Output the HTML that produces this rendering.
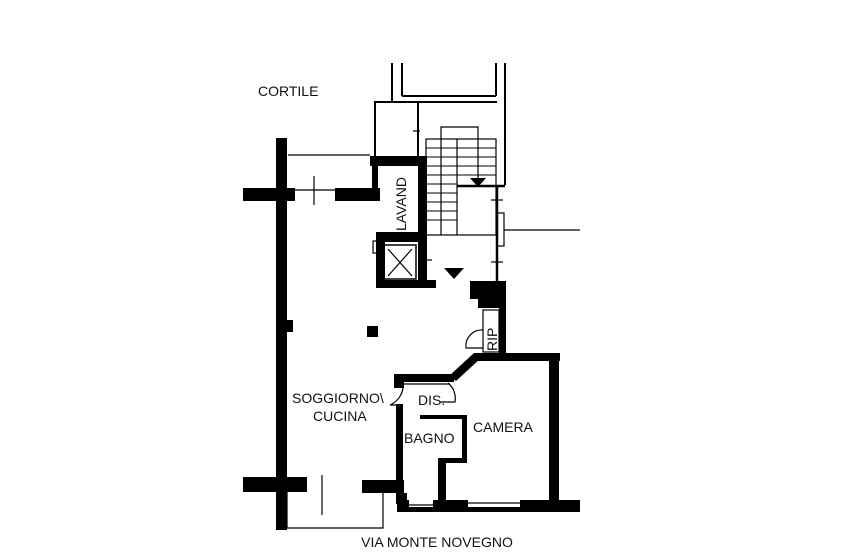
<!DOCTYPE html>
<html><head><style>
html,body{margin:0;padding:0;background:#fff;}
svg{display:block;}
text{font-family:"Liberation Sans",sans-serif;fill:#111;}
</style></head><body>
<svg width="853" height="560" viewBox="0 0 853 560" xmlns="http://www.w3.org/2000/svg">
<rect width="853" height="560" fill="#fff"/>
<g fill="#000">
<rect x="276" y="138" width="11" height="392"/>
<rect x="287" y="320" width="6" height="12"/>
<rect x="243" y="188" width="52" height="13"/>
<rect x="335" y="188" width="45" height="13"/>
<rect x="370" y="156" width="57" height="10"/>
<rect x="418" y="156" width="9" height="132"/>
<rect x="376" y="232" width="50" height="10"/>
<rect x="376" y="232" width="9" height="56"/>
<rect x="376" y="280" width="60" height="8"/>
<rect x="372" y="166" width="6" height="30"/>
<rect x="470" y="281" width="36" height="18"/>
<rect x="478" y="281" width="28" height="27"/>
<rect x="499" y="299" width="7" height="56"/>
<rect x="367" y="326" width="11" height="11"/>
<rect x="474" y="353" width="86" height="8"/>
<rect x="549" y="353" width="10" height="150"/>
<polygon points="474,353 481,358 456,381 449,376"/>
<rect x="394" y="374" width="60" height="8"/>
<rect x="394" y="374" width="10" height="14"/>
<rect x="396" y="404" width="7" height="100"/>
<rect x="420" y="415" width="47" height="4"/>
<rect x="462" y="415" width="5" height="47"/>
<rect x="438" y="458" width="29" height="5"/>
<rect x="438" y="458" width="8" height="45"/>
<rect x="243" y="477" width="64" height="15"/>
<rect x="362" y="480" width="42" height="13"/>
<rect x="397" y="493" width="10" height="18"/>
<rect x="397" y="500" width="183" height="12"/>
</g>
<rect x="409" y="500" width="24" height="7" fill="#fff"/>
<rect x="468" y="500" width="52" height="7" fill="#fff"/>
<g stroke="#000" fill="none" stroke-width="1.2">
<line x1="409" y1="505" x2="433" y2="505"/>
<line x1="468" y1="503" x2="520" y2="503"/>
<line x1="288" y1="155" x2="370" y2="155"/>
<line x1="295" y1="190" x2="335" y2="190"/>
<line x1="314" y1="176" x2="314" y2="205"/>
<rect x="375" y="102" width="43" height="55" stroke-width="2"/>
<line x1="418" y1="102" x2="497" y2="102" stroke-width="2"/>
<line x1="392" y1="63" x2="392" y2="102" stroke-width="2"/>
<line x1="402" y1="63" x2="402" y2="96" stroke-width="2"/>
<line x1="402" y1="96" x2="496" y2="96" stroke-width="2"/>
<line x1="496" y1="63" x2="496" y2="96" stroke-width="2"/>
<line x1="505" y1="63" x2="505" y2="185" stroke-width="2"/>
<line x1="413" y1="131" x2="420" y2="131"/>
<rect x="426" y="139" width="70" height="96"/>
<path d="M441 139 V127 H478 V180"/>
<line x1="441" y1="139" x2="441" y2="235"/>
<line x1="457" y1="139" x2="457" y2="235"/>
<g stroke-width="1">
<line x1="426" y1="148" x2="496" y2="148"/><line x1="426" y1="157" x2="496" y2="157"/>
<line x1="426" y1="166" x2="496" y2="166"/><line x1="426" y1="175" x2="496" y2="175"/>
<line x1="426" y1="184" x2="457" y2="184"/><line x1="426" y1="193" x2="457" y2="193"/>
<line x1="426" y1="202" x2="457" y2="202"/><line x1="426" y1="211" x2="457" y2="211"/>
<line x1="426" y1="220" x2="457" y2="220"/>
</g>
<line x1="457" y1="186" x2="505" y2="186" stroke-width="2.5"/>
<line x1="497" y1="185" x2="497" y2="282" stroke-width="2.5"/>
<rect x="497" y="213" width="7" height="33"/>
<line x1="504" y1="230" x2="580" y2="230"/>
<line x1="491" y1="200" x2="503" y2="200"/>
<line x1="491" y1="262" x2="503" y2="262"/>
<rect x="384" y="245" width="32" height="34" stroke-width="1.5"/>
<line x1="388" y1="249" x2="412" y2="276"/><line x1="412" y1="249" x2="388" y2="276"/>
<rect x="419" y="250" width="6" height="20"/>
<line x1="426" y1="260" x2="432" y2="260"/>
<rect x="373" y="241" width="4" height="12"/>
<path d="M483 330 A16 16 0 0 0 466 348 H483"/>
<rect x="483" y="310" width="16" height="42"/>
<path d="M403 388 A22 22 0 0 1 390 405 H403"/>
<path d="M448 383 A20 20 0 0 1 455 402 H440"/>
<line x1="404" y1="384" x2="450" y2="384"/>
<path d="M287 492 V528 H383 V493"/>
<line x1="322" y1="475" x2="322" y2="515"/>
</g>
<g fill="#000">
<polygon points="470,178 486,178 478,187"/>
<polygon points="444,268 464,268 454,279"/>
</g>
<g font-size="14">
<text x="258" y="96">CORTILE</text>
<text transform="translate(406,231) rotate(-90)">LAVAND</text>
<text transform="translate(497,351) rotate(-90)">RIP</text>
<text x="292" y="403">SOGGIORNO\</text>
<text x="313" y="421">CUCINA</text>
<text x="418" y="405">DIS.</text>
<text x="404" y="443">BAGNO</text>
<text x="473" y="432">CAMERA</text>
<text x="437" y="547" text-anchor="middle">VIA MONTE NOVEGNO</text>
</g>
</svg>
</body></html>
